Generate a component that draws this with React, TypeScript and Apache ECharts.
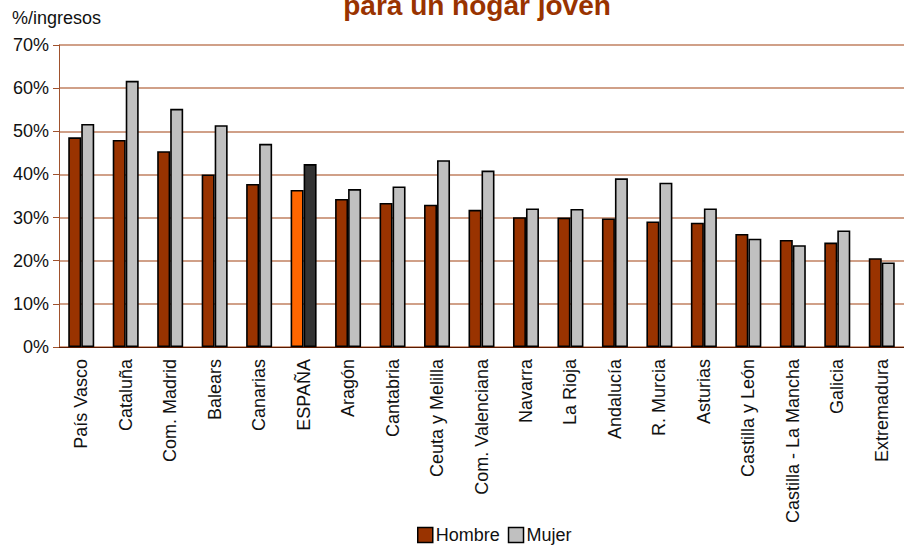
import React, { useEffect, useRef } from "react";
import * as echarts from "echarts";

const categories = ["País Vasco", "Cataluña", "Com. Madrid", "Balears", "Canarias", "ESPAÑA", "Aragón", "Cantabria", "Ceuta y Melilla", "Com. Valenciana", "Navarra", "La Rioja", "Andalucía", "R. Murcia", "Asturias", "Castilla y León", "Castilla - La Mancha", "Galicia", "Extremadura"];
const hombre = [48.6, 48.0, 45.4, 40.0, 37.8, 36.4, 34.3, 33.4, 33.0, 31.8, 30.1, 30.0, 29.8, 29.1, 28.8, 26.2, 24.8, 24.2, 20.6];
const mujer = [51.7, 61.7, 55.2, 51.4, 47.1, 42.4, 36.6, 37.2, 43.3, 40.9, 32.1, 32.0, 39.1, 38.1, 32.1, 25.1, 23.6, 27.0, 19.6];
const highlight = "ESPAÑA";
const FONT = "'Liberation Sans Narrow', 'Arial Narrow', 'Liberation Sans', Arial, sans-serif";

export default function App() {
  const ref = useRef<HTMLDivElement>(null);
  useEffect(() => {
    const chart = echarts.init(ref.current!, null, { renderer: "svg" });
    const mk = (vals: number[], color: string, hl: string) =>
      vals.map((v, i) => ({
        value: v,
        itemStyle: { color: categories[i] === highlight ? hl : color },
      }));
    chart.setOption({
      animation: false,
      backgroundColor: "#fff",
      textStyle: { fontFamily: FONT },
      graphic: [
        { type: "text", x: 477, y: -9, style: { text: "para un hogar joven", fill: "#993300", font: `bold 28px ${FONT}`, textAlign: "center" } },
        { type: "text", left: 12, top: 9, style: { text: "%/ingresos", fill: "#111", font: `18px ${FONT}` } },
      ],
      grid: { left: 59, right: 0, top: 45, bottom: 201 },
      legend: {
        bottom: -1,
        left: 412,
        itemWidth: 15,
        itemHeight: 15,
        itemGap: 8,
        textStyle: { fontSize: 18, color: "#111", fontFamily: FONT, padding: [0, 0, 0, -2] },
        data: [
          { name: "Hombre", icon: "rect", itemStyle: { color: "#993300", borderColor: "#000", borderWidth: 1.5 } },
          { name: "Mujer", icon: "rect", itemStyle: { color: "#C0C0C0", borderColor: "#000", borderWidth: 1.5 } },
        ],
      },
      xAxis: {
        type: "category",
        data: categories,
        axisLine: { lineStyle: { color: "#5a1a00", width: 1 } },
        axisTick: { show: false },
        axisLabel: { rotate: 90, fontSize: 18, color: "#111", margin: 12, interval: 0, fontFamily: FONT },
      },
      yAxis: {
        type: "value",
        min: 0,
        max: 70,
        interval: 10,
        axisLine: { show: true, lineStyle: { color: "#a0522d", width: 1 } },
        axisTick: { show: true, length: 6, lineStyle: { color: "#a0522d" } },
        axisLabel: { formatter: "{value}%", fontSize: 18, color: "#111", margin: 10, fontFamily: FONT },
        splitLine: { lineStyle: { color: "#c08060", width: 1.5 } },
      },
      series: [
        {
          name: "Hombre",
          type: "bar",
          barWidth: 13,
          barGap: "0%",
          itemStyle: { color: "#993300", borderColor: "#000", borderWidth: 1.6 },
          data: mk(hombre, "#993300", "#FF6600"),
        },
        {
          name: "Mujer",
          type: "bar",
          barWidth: 13,
          barGap: "0%",
          itemStyle: { color: "#C0C0C0", borderColor: "#000", borderWidth: 1.6 },
          data: mk(mujer, "#C0C0C0", "#333333"),
        },
      ],
    });
    return () => chart.dispose();
  }, []);
  return <div ref={ref} style={{ width: 904, height: 548, position: "absolute", left: 0, top: 0 }} />;
}
